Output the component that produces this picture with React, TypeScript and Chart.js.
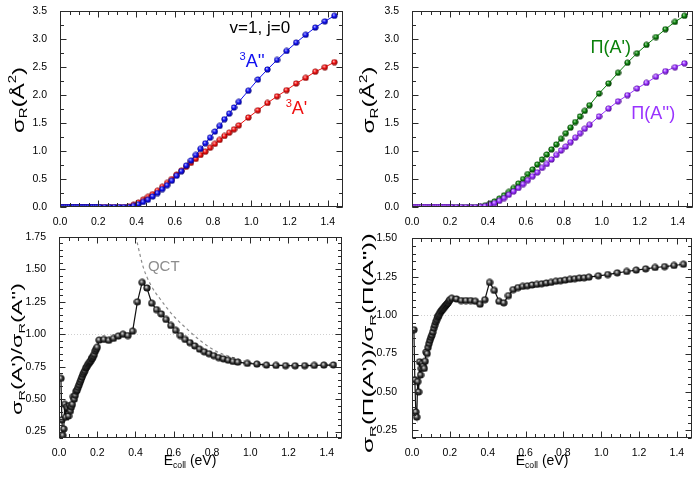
import React, { useEffect, useRef } from "react";
import { Chart, registerables } from "chart.js";
Chart.register(...registerables);

const FONT = '"Liberation Sans", Arial, Helvetica, sans-serif';

// ---------- data (collision energy in eV) ----------
const E_DENSE_TOP = [0.0, 0.01, 0.02, 0.03, 0.04, 0.05, 0.06, 0.07, 0.08, 0.09, 0.1, 0.11, 0.12, 0.13, 0.14, 0.15, 0.16, 0.17, 0.18, 0.19, 0.2];
const SIGMA_DENSE_TOP = [0, 0, 0, 0, 0, 0, 0, 0, 0, 0, 0, 0, 0, 0, 0, 0, 0, 0, 0, 0, 0];

const E_GRID = [0.21, 0.235, 0.26, 0.285, 0.31, 0.335, 0.36, 0.385, 0.41, 0.435, 0.46, 0.485, 0.51, 0.535, 0.56, 0.585, 0.61, 0.635, 0.66, 0.685, 0.71, 0.735, 0.76, 0.785, 0.81, 0.835, 0.86, 0.885, 0.91, 0.935, 0.985, 1.035, 1.085, 1.135, 1.185, 1.235, 1.285, 1.335, 1.385, 1.435];

// sigma_R (Å^2)
const SIGMA_3A2 = [0, 0, 0, 0, 0, 0, 0, 0.02, 0.05, 0.09, 0.13, 0.19, 0.25, 0.32, 0.39, 0.47, 0.56, 0.64, 0.74, 0.83, 0.93, 1.04, 1.14, 1.24, 1.35, 1.45, 1.57, 1.67, 1.78, 1.88, 2.08, 2.28, 2.46, 2.63, 2.79, 2.94, 3.08, 3.21, 3.32, 3.42];
const SIGMA_3A1 = [0, 0, 0, 0, 0, 0, 0.01, 0.04, 0.08, 0.13, 0.18, 0.23, 0.29, 0.36, 0.43, 0.5, 0.58, 0.65, 0.72, 0.79, 0.86, 0.93, 0.99, 1.06, 1.13, 1.2, 1.27, 1.33, 1.39, 1.46, 1.6, 1.73, 1.86, 1.98, 2.09, 2.21, 2.31, 2.42, 2.5, 2.59];
const SIGMA_PI_A1 = [0, 0, 0, 0, 0, 0, 0.01, 0.03, 0.06, 0.1, 0.15, 0.21, 0.27, 0.34, 0.42, 0.5, 0.59, 0.67, 0.76, 0.85, 0.94, 1.03, 1.12, 1.22, 1.32, 1.42, 1.52, 1.62, 1.72, 1.82, 2.03, 2.21, 2.4, 2.58, 2.75, 2.9, 3.04, 3.18, 3.31, 3.42];
const SIGMA_PI_A2 = [0, 0, 0, 0, 0, 0, 0.005, 0.015, 0.04, 0.07, 0.11, 0.16, 0.22, 0.28, 0.34, 0.41, 0.48, 0.55, 0.62, 0.7, 0.77, 0.85, 0.93, 1.01, 1.08, 1.16, 1.24, 1.32, 1.4, 1.47, 1.62, 1.76, 1.89, 2.0, 2.12, 2.22, 2.33, 2.43, 2.5, 2.57];

// ratios
const E_DENSE_RATIO = [0.01, 0.015, 0.02, 0.025, 0.03, 0.035, 0.04, 0.045, 0.05, 0.055, 0.06, 0.065, 0.07, 0.075, 0.08, 0.085, 0.09, 0.095, 0.1, 0.105, 0.11, 0.115, 0.12, 0.125, 0.13, 0.135, 0.14, 0.145, 0.15, 0.155, 0.16, 0.165, 0.17, 0.175, 0.18, 0.185, 0.19, 0.195, 0.2];
const RATIO_A_DENSE = [0.66, 0.34, 0.22, 0.27, 0.46, 0.36, 0.44, 0.43, 0.37, 0.45, 0.41, 0.44, 0.46, 0.52, 0.5, 0.53, 0.56, 0.57, 0.59, 0.61, 0.63, 0.65, 0.67, 0.69, 0.705, 0.72, 0.74, 0.75, 0.765, 0.775, 0.785, 0.795, 0.81, 0.82, 0.83, 0.845, 0.87, 0.885, 0.9];
const RATIO_A_GRID = [0.955, 0.96, 0.953, 0.968, 0.986, 1.0, 0.99, 1.024, 1.25, 1.4, 1.357, 1.24, 1.19, 1.157, 1.114, 1.068, 1.03, 0.99, 0.96, 0.935, 0.91, 0.885, 0.865, 0.85, 0.835, 0.82, 0.81, 0.8, 0.79, 0.785, 0.775, 0.77, 0.762, 0.76, 0.758, 0.757, 0.758, 0.76, 0.762, 0.763];
const RATIO_PI_DENSE = [0.905, 0.58, 0.37, 0.336, 0.567, 0.5, 0.696, 0.61, 0.653, 0.686, 0.668, 0.653, 0.7, 0.76, 0.75, 0.79, 0.815, 0.836, 0.855, 0.87, 0.89, 0.915, 0.935, 0.955, 0.97, 0.985, 0.995, 1.005, 1.017, 1.027, 1.035, 1.042, 1.05, 1.058, 1.065, 1.073, 1.08, 1.09, 1.1];
const RATIO_PI_GRID = [1.11, 1.105, 1.095, 1.095, 1.095, 1.09, 1.071, 1.1, 1.213, 1.161, 1.09, 1.08, 1.127, 1.166, 1.179, 1.187, 1.191, 1.196, 1.2, 1.204, 1.209, 1.213, 1.22, 1.224, 1.228, 1.233, 1.237, 1.241, 1.243, 1.247, 1.256, 1.264, 1.275, 1.284, 1.293, 1.301, 1.31, 1.316, 1.323, 1.331];

const QCT_E = [0.395, 0.41, 0.44, 0.48, 0.53, 0.6, 0.67, 0.74, 0.82, 0.91, 1.01, 1.11, 1.21, 1.31, 1.435];
const QCT_RATIO = [1.8, 1.7, 1.52, 1.38, 1.27, 1.14, 1.04, 0.95, 0.87, 0.82, 0.78, 0.765, 0.76, 0.758, 0.76];

// tick labels
const X_TICKS = [0.0, 0.2, 0.4, 0.6, 0.8, 1.0, 1.2, 1.4];
const Y_TICKS_SIGMA = [0.0, 0.5, 1.0, 1.5, 2.0, 2.5, 3.0, 3.5];
const Y_TICKS_RATIO_A = [0.25, 0.5, 0.75, 1.0, 1.25, 1.5, 1.75];
const Y_TICKS_RATIO_PI = [0.25, 0.5, 0.75, 1.0, 1.25, 1.5];

// ---------- helpers ----------
const C_BLUE = "#1010f0";
const C_RED = "#f01010";
const C_GREEN = "#0a800a";
const C_PURPLE = "#9933ff";
const TICK_FONT = 10.5;

function pts(xs: number[], ys: number[]) {
  return xs.map((x, i) => ({ x, y: ys[i] }));
}

function makeSphere(base: string, dark: string, light: string, size = 7) {
  const c = document.createElement("canvas");
  c.width = size;
  c.height = size;
  const g = c.getContext("2d")!;
  const m = size / 2;
  const r = m - 0.4;
  const grd = g.createRadialGradient(m - 0.9, m - 1.1, 0.2, m, m, r);
  grd.addColorStop(0, light);
  grd.addColorStop(0.5, base);
  grd.addColorStop(1, dark);
  g.fillStyle = grd;
  g.beginPath();
  g.arc(m, m, r, 0, Math.PI * 2);
  g.fill();
  return c;
}

type Part = { t: string; sub?: boolean; sup?: boolean };

function drawRich(
  ctx: CanvasRenderingContext2D,
  parts: Part[],
  x: number,
  y: number,
  size: number,
  color: string,
  align: "left" | "center" = "left",
  rotate = false,
  targetLen?: number
) {
  ctx.save();
  ctx.translate(x, y);
  if (rotate) ctx.rotate(-Math.PI / 2);
  const fontFor = (p: Part) => `${p.sub || p.sup ? size * 0.62 : size}px ${FONT}`;
  let w = 0;
  for (const p of parts) {
    ctx.font = fontFor(p);
    w += ctx.measureText(p.t).width;
  }
  if (targetLen) {
    ctx.scale(targetLen / w, 1);
  }
  let cx = align === "center" ? -w / 2 : 0;
  ctx.fillStyle = color;
  ctx.textBaseline = "alphabetic";
  ctx.textAlign = "left";
  for (const p of parts) {
    ctx.font = fontFor(p);
    const dy = p.sub ? size * 0.22 : p.sup ? -size * 0.42 : 0;
    ctx.fillText(p.t, cx, dy);
    cx += ctx.measureText(p.t).width;
  }
  ctx.restore();
}

const decorPlugin = {
  id: "decor",
  beforeDatasetsDraw(chart: any, _a: any, o: any) {
    if (o.refLine == null) return;
    const ctx = chart.ctx as CanvasRenderingContext2D;
    const { left, right } = chart.chartArea;
    const y = Math.round(chart.scales.y.getPixelForValue(o.refLine)) + 0.5;
    ctx.save();
    ctx.strokeStyle = "#cfcfcf";
    ctx.lineWidth = 1;
    ctx.setLineDash([1, 2]);
    ctx.beginPath();
    ctx.moveTo(left, y);
    ctx.lineTo(right, y);
    ctx.stroke();
    ctx.restore();
  },
  afterDraw(chart: any, _a: any, o: any) {
    const ctx = chart.ctx as CanvasRenderingContext2D;
    const { left, right, top, bottom } = chart.chartArea;
    const xs = chart.scales.x;
    const ys = chart.scales.y;
    const L = Math.round(left) + 0.5;
    const R = Math.round(right) - 0.5;
    const T = Math.round(top) + 0.5;
    const B = Math.round(bottom) - 0.5;
    ctx.save();
    ctx.strokeStyle = "#2a2a2a";
    ctx.lineWidth = 1;
    ctx.beginPath();
    const xTick = (v: number, len: number) => {
      const p = Math.round(xs.getPixelForValue(v)) + 0.5;
      ctx.moveTo(p, B);
      ctx.lineTo(p, B - len);
      ctx.moveTo(p, T);
      ctx.lineTo(p, T + len);
    };
    const yTick = (v: number, len: number) => {
      const p = Math.round(ys.getPixelForValue(v)) + 0.5;
      ctx.moveTo(L, p);
      ctx.lineTo(L + len, p);
      ctx.moveTo(R, p);
      ctx.lineTo(R - len, p);
    };
    const minor = (scale: any, step: number, fn: (v: number, l: number) => void) => {
      const k0 = Math.ceil(scale.min / step - 1e-9);
      for (let k = k0; k * step <= scale.max + 1e-9; k++) fn(k * step, 3.5);
    };
    minor(xs, o.xMinor, xTick);
    minor(ys, o.yMinor, yTick);
    xs.ticks.forEach((t: any) => xTick(t.value, 6));
    ys.ticks.forEach((t: any) => yTick(t.value, 6));
    ctx.stroke();
    ctx.strokeRect(L, T, R - L, B - T);
    ctx.restore();

    if (o.yTitle) {
      const t = o.yTitle;
      drawRich(ctx, t.parts, t.x, t.y, t.size, "#000", "center", true, t.len);
    }
    if (o.xTitle) {
      const t = o.xTitle;
      drawRich(ctx, t.parts, t.x, t.y, t.size, "#000", "center", false);
    }
    (o.labels || []).forEach((lb: any) => {
      const px = xs.getPixelForValue(lb.x);
      const py = ys.getPixelForValue(lb.y);
      drawRich(ctx, lb.parts, px, py, lb.size, lb.color, "left", false);
    });
  },
};

function makeConfig(p: any) {
  return {
    type: "line",
    data: { datasets: p.datasets },
    plugins: [decorPlugin],
    options: {
      responsive: false,
      devicePixelRatio: 1,
      animation: false,
      events: [],
      layout: { padding: p.padding },
      plugins: {
        legend: { display: false },
        tooltip: { enabled: false },
        decor: p.decor,
      },
      elements: { line: { tension: 0 } },
      scales: {
        x: {
          type: "linear",
          min: 0,
          max: 1.48,
          grid: { display: false },
          border: { display: false },
          afterBuildTicks: (s: any) => {
            s.ticks = X_TICKS.map((v) => ({ value: v }));
          },
          afterFit: (s: any) => {
            s.height = p.xHeight;
          },
          ticks: {
            padding: 1,
            autoSkip: false,
            maxRotation: 0,
            color: "#000",
            font: { family: FONT, size: TICK_FONT },
            callback: (v: any) => Number(v).toFixed(1),
          },
        },
        y: {
          type: "linear",
          min: p.yMin,
          max: p.yMax,
          grid: { display: false },
          border: { display: false },
          afterBuildTicks: (s: any) => {
            s.ticks = p.yTicks.map((v: number) => ({ value: v }));
          },
          afterFit: (s: any) => {
            s.width = p.yWidth;
          },
          ticks: {
            padding: p.yPad,
            autoSkip: false,
            color: "#000",
            font: { family: FONT, size: TICK_FONT },
            callback: (v: any) => Number(v).toFixed(p.yDec),
          },
        },
      },
    },
  };
}

function Panel({ left, top, width, height, build }: any) {
  const ref = useRef<HTMLCanvasElement>(null);
  useEffect(() => {
    const chart = new Chart(ref.current as HTMLCanvasElement, build() as any);
    return () => chart.destroy();
  }, []);
  return (
    <div style={{ position: "absolute", left, top, width, height }}>
      <canvas ref={ref} width={width} height={height} style={{ display: "block" }} />
    </div>
  );
}

const lineDs = (data: any, color: string, sphere: HTMLCanvasElement, width = 1) => ({
  data,
  borderColor: color,
  backgroundColor: color,
  borderWidth: width,
  pointStyle: sphere,
  pointRadius: 3.5,
  showLine: true,
  fill: false,
});

const SIGMA_TITLE: Part[] = [{ t: "σ" }, { t: "R", sub: true }, { t: "(Å" }, { t: "2", sup: true }, { t: ")" }];
const ECOLL_TITLE: Part[] = [{ t: "E" }, { t: "coll", sub: true }, { t: " (eV)" }];

function buildTL() {
  const sB = makeSphere(C_BLUE, "#00007a", "#b8b8ff");
  const sR = makeSphere(C_RED, "#7a0000", "#ffc0c0");
  const xs = [...E_DENSE_TOP, ...E_GRID];
  return makeConfig({
    datasets: [
      lineDs(pts(xs, [...SIGMA_DENSE_TOP, ...SIGMA_3A2]), C_BLUE, sB),
      lineDs(pts(xs, [...SIGMA_DENSE_TOP, ...SIGMA_3A1]), C_RED, sR),
    ],
    padding: { left: 0, right: 7, top: 7, bottom: 0 },
    xHeight: 18,
    yWidth: 60,
    yPad: 5,
    yMin: 0,
    yMax: 3.5,
    yTicks: Y_TICKS_SIGMA,
    yDec: 1,
    decor: {
      xMinor: 0.05,
      yMinor: 0.25,
      yTitle: { parts: SIGMA_TITLE, x: 23.5, y: 100, size: 17, len: 66 },
      labels: [
        { x: 0.887, y: 3.11, parts: [{ t: "v=1, j=0" }], size: 17, color: "#000" },
        { x: 0.939, y: 2.5, parts: [{ t: "3", sup: true }, { t: "A''" }], size: 18, color: C_BLUE },
        { x: 1.18, y: 1.66, parts: [{ t: "3", sup: true }, { t: "A'" }], size: 18, color: C_RED },
      ],
    },
  });
}

function buildTR() {
  const sG = makeSphere(C_GREEN, "#003000", "#a8e0a8");
  const sP = makeSphere(C_PURPLE, "#4a0090", "#e6ccff");
  const xs = [...E_DENSE_TOP, ...E_GRID];
  return makeConfig({
    datasets: [
      lineDs(pts(xs, [...SIGMA_DENSE_TOP, ...SIGMA_PI_A2]), C_PURPLE, sP),
      lineDs(pts(xs, [...SIGMA_DENSE_TOP, ...SIGMA_PI_A1]), C_GREEN, sG),
    ],
    padding: { left: 0, right: 7, top: 7, bottom: 0 },
    xHeight: 18,
    yWidth: 62,
    yPad: 5,
    yMin: 0,
    yMax: 3.5,
    yTicks: Y_TICKS_SIGMA,
    yDec: 1,
    decor: {
      xMinor: 0.05,
      yMinor: 0.25,
      yTitle: { parts: SIGMA_TITLE, x: 24, y: 100, size: 17, len: 67 },
      labels: [
        { x: 0.94, y: 2.76, parts: [{ t: "Π(A')" }], size: 18, color: C_GREEN },
        { x: 1.155, y: 1.575, parts: [{ t: "Π(A'')" }], size: 18, color: C_PURPLE },
      ],
    },
  });
}

function buildBL() {
  const sK = makeSphere("#3a3a3a", "#000000", "#e8e8e8", 8);
  return makeConfig({
    datasets: [
      lineDs(pts([...E_DENSE_RATIO, ...E_GRID], [...RATIO_A_DENSE, ...RATIO_A_GRID]), "#111", sK, 1.2),
      {
        data: pts(QCT_E, QCT_RATIO),
        borderColor: "#8c8c8c",
        borderWidth: 1.2,
        borderDash: [3, 3],
        pointRadius: 0,
        showLine: true,
        fill: false,
        cubicInterpolationMode: "monotone",
      },
    ],
    padding: { left: 0, right: 8, top: 12, bottom: 0 },
    xHeight: 42,
    yWidth: 59,
    yPad: 5,
    yMin: 0.2,
    yMax: 1.75,
    yTicks: Y_TICKS_RATIO_A,
    yDec: 2,
    decor: {
      xMinor: 0.05,
      yMinor: 0.05,
      refLine: 1.0,
      yTitle: {
        parts: [{ t: "σ" }, { t: "R", sub: true }, { t: "(A')/σ" }, { t: "R", sub: true }, { t: "(A'')" }],
        x: 22, y: 124, size: 15.5, len: 132,
      },
      xTitle: { parts: ECOLL_TITLE, x: 190, y: 240, size: 14 },
      labels: [{ x: 0.465, y: 1.49, parts: [{ t: "QCT" }], size: 15, color: "#8c8c8c" }],
    },
  });
}

function buildBR() {
  const sK = makeSphere("#3a3a3a", "#000000", "#e8e8e8", 8);
  return makeConfig({
    datasets: [
      lineDs(pts([...E_DENSE_RATIO, ...E_GRID], [...RATIO_PI_DENSE, ...RATIO_PI_GRID]), "#111", sK, 1.2),
    ],
    padding: { left: 0, right: 8, top: 12, bottom: 0 },
    xHeight: 42,
    yWidth: 62,
    yPad: 7,
    yMin: 0.2,
    yMax: 1.5,
    yTicks: Y_TICKS_RATIO_PI,
    yDec: 2,
    decor: {
      xMinor: 0.05,
      yMinor: 0.05,
      refLine: 1.0,
      yTitle: {
        parts: [{ t: "σ" }, { t: "R", sub: true }, { t: "(Π(A'))/σ" }, { t: "R", sub: true }, { t: "(Π(A''))" }],
        x: 22.5, y: 118, size: 15.5, len: 220,
      },
      xTitle: { parts: ECOLL_TITLE, x: 192, y: 240, size: 14 },
      labels: [],
    },
  });
}

export default function App() {
  return (
    <div style={{ position: "fixed", left: 0, top: 0, width: 700, height: 480, background: "#fff", overflow: "hidden" }}>
      <Panel left={0} top={0} width={350} height={225} build={buildTL} />
      <Panel left={350} top={0} width={350} height={225} build={buildTR} />
      <Panel left={0} top={225} width={350} height={255} build={buildBL} />
      <Panel left={350} top={225} width={350} height={255} build={buildBR} />
    </div>
  );
}
